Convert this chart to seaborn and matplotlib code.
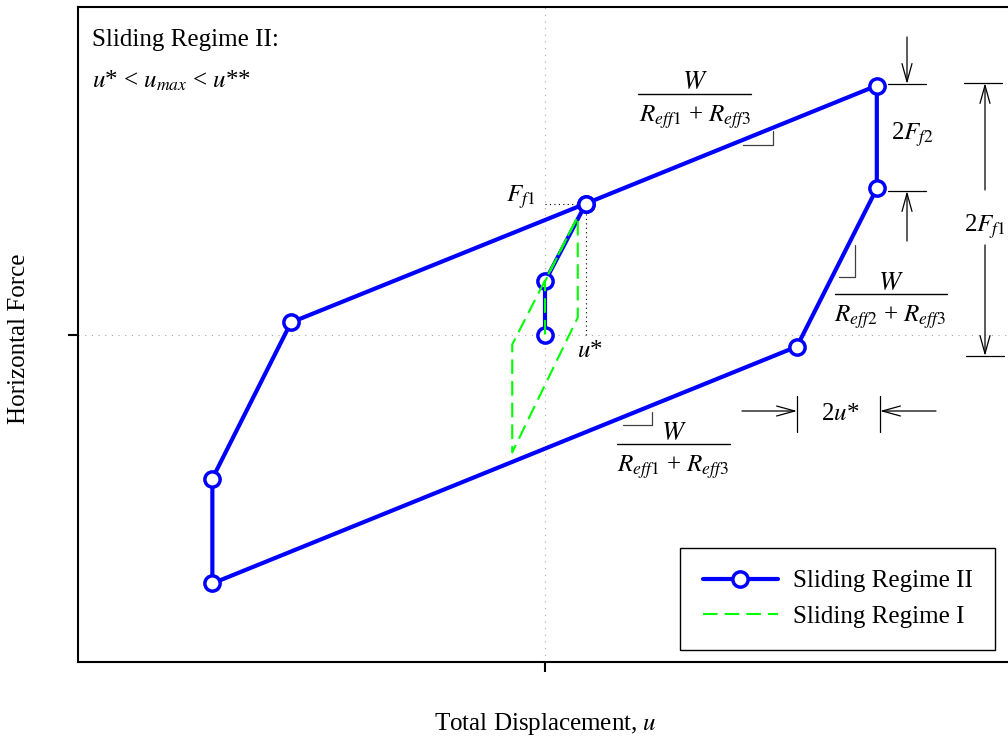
import numpy as np
import pandas as pd
import matplotlib
matplotlib.use("Agg")
import matplotlib.pyplot as plt
import seaborn as sns

# Force-displacement loop, Sliding Regime II
# (displacement in units of u*, force in units of F_f1)
regime2_u = [0.0, 0.0, 1.0, 8.1, 8.1, 6.15, -8.12, -8.12, -6.2, 1.0]
regime2_f = [0.0, 0.405, 1.0, 1.9, 1.115, -0.092, -1.9, -1.1, 0.092, 1.0]

# Force-displacement loop, Sliding Regime I
regime1_u = [0.0, 0.0, 0.8, 0.8, -0.8, -0.8, 0.8]
regime1_f = [0.0, 0.405, 0.9, 0.13, -0.9, -0.076, 0.9]

series_labels = ["Sliding Regime II", "Sliding Regime I"]
x_label = "Total Displacement, $u$"
y_label = "Horizontal Force"

W, H = 1008, 741

sns.set_theme(style="white")
plt.rcParams["font.family"] = ["Liberation Serif", "DejaVu Serif"]
plt.rcParams["mathtext.fontset"] = "stix"
plt.rcParams["text.color"] = "black"

fig = plt.figure(figsize=(W / 100, H / 100), dpi=100)
ax = fig.add_axes([78 / W, 79 / H, 934 / W, 655 / H])
ax.set_xlim(-11.4, 11.4)
ax.set_ylim(-2.5, 2.5)

df2 = pd.DataFrame({"u": regime2_u, "F": regime2_f})
df1 = pd.DataFrame({"u": regime1_u, "F": regime1_f})

# zero reference lines
ax.axvline(0, color="#a8a8a8", lw=0.8, ls=(0, (1, 5)), zorder=0)
ax.axhline(0, color="#a8a8a8", lw=0.8, ls=(0, (1, 5)), zorder=0)

# projections of the first slip point onto the axes
pu, pf = regime2_u[2], regime2_f[2]
ax.plot([0, pu], [pf, pf], color="black", lw=0.8, ls=(0, (1, 3)), zorder=1)
ax.plot([pu, pu], [0, pf], color="black", lw=0.8, ls=(0, (1, 3)), zorder=1)

sns.lineplot(data=df2, x="u", y="F", sort=False, estimator=None, ax=ax,
             color="#0000ff", lw=3, marker="o", markersize=11,
             markerfacecolor="white", markeredgecolor="#0000ff",
             markeredgewidth=2.5, label=series_labels[0], zorder=3)
sns.lineplot(data=df1, x="u", y="F", sort=False, estimator=None, ax=ax,
             color="#00ff00", lw=1.5, ls=(0, (7, 3.4)),
             label=series_labels[1], zorder=4)

# axes styling
for side in ["left", "top", "bottom"]:
    ax.spines[side].set_color("black")
    ax.spines[side].set_linewidth(1.5)
ax.spines["right"].set_visible(False)
ax.set_xticks([0])
ax.set_yticks([0])
ax.set_xticklabels([])
ax.set_yticklabels([])
ax.tick_params(axis="both", direction="out", length=7, width=1.5,
               color="black", bottom=True, left=True)
ax.set_xlabel("")
ax.set_ylabel("")

fig.text(545 / W, 1 - 724 / H, x_label, ha="center", va="center", fontsize=18)
fig.text(19 / W, 1 - 339 / H, y_label, ha="center", va="center",
         rotation=90, fontsize=18)

leg = ax.legend(loc="lower right", bbox_to_anchor=(995 / W, 1 - 650 / H),
                bbox_transform=fig.transFigure, borderaxespad=0,
                fontsize=18, frameon=True, fancybox=False, framealpha=1,
                edgecolor="black", handlelength=3.0, handletextpad=0.6,
                labelspacing=0.5, borderpad=0.9)
leg.get_frame().set_linewidth(1.0)


def px(x, y):
    """Figure pixel position (origin top-left) to data coordinates."""
    return ax.transData.inverted().transform((x, H - y))


def seg(points, color="black", lw=0.9):
    d = np.array([px(x, y) for x, y in points])
    ax.plot(d[:, 0], d[:, 1], color=color, lw=lw, clip_on=False, zorder=2)


def label(x, y, s, ha="center", va="baseline", size=18):
    ax.text(*px(x, y), s, ha=ha, va=va, fontsize=size, clip_on=False)


def arrow(tail, tip):
    ax.annotate("", xy=px(*tip), xytext=px(*tail),
                arrowprops=dict(arrowstyle="->,head_length=1.3,head_width=0.36",
                                lw=0.9, color="black", shrinkA=0, shrinkB=0,
                                mutation_scale=10),
                annotation_clip=False)


# regime description
fig.text(92 / W, 1 - 46 / H, "Sliding Regime II:", ha="left", va="baseline",
         fontsize=18)
fig.text(92 / W, 1 - 88 / H, r"$u$* < $u_{max}$ < $u$**", ha="left",
         va="baseline", fontsize=18)

# point labels
label(535, 202, r"$F_{f1}$", ha="right")
label(577, 357, r"$u$*", ha="left")

# stiffness fractions with slope marks
den13 = r"$R_{eff1}$ + $R_{eff3}$"
den23 = r"$R_{eff2}$ + $R_{eff3}$"
seg([(638, 94), (751, 94)], lw=1.0)
label(695, 89, r"$W$", size=19)
label(695, 122, den13)
seg([(743, 145), (773, 145), (773, 131)], color="#404040")

seg([(835, 294), (947, 294)], lw=1.0)
label(891, 290, r"$W$", size=19)
label(890, 322, den23)
seg([(855, 245), (855, 277), (839, 277)], color="#404040")

seg([(617, 444), (730, 444)], lw=1.0)
label(674, 440, r"$W$", size=19)
label(673, 472, den13)
seg([(623, 425), (652, 425), (652, 412)], color="#404040")

# 2F_f2 dimension
seg([(888, 84), (926, 84)])
seg([(888, 191), (926, 191)])
arrow((907, 37), (907, 84))
arrow((907, 241), (907, 191))
label(912, 140, r"2$F_{f2}$")

# 2F_f1 dimension
seg([(964, 83), (1002, 83)])
seg([(966, 356), (1004, 356)])
arrow((985, 190), (985, 83))
arrow((985, 245), (985, 356))
label(985, 232, r"2$F_{f1}$")

# 2u* dimension
seg([(797, 396), (797, 432)])
seg([(880, 396), (880, 432)])
arrow((742, 411), (797, 411))
arrow((936, 411), (880, 411))
label(840, 420, r"2$u$*")

fig.savefig("out.png", dpi=100, facecolor="white")
